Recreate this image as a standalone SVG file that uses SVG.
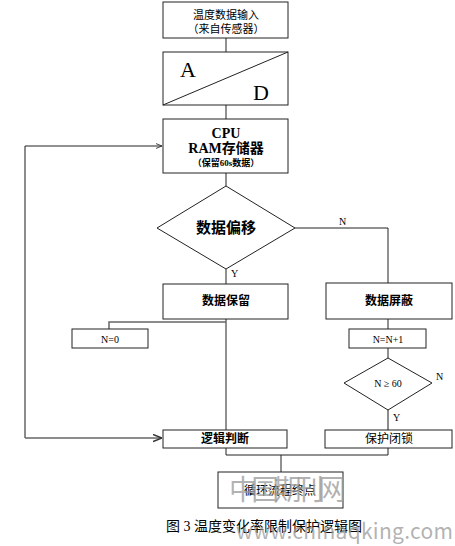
<svg xmlns="http://www.w3.org/2000/svg" width="455" height="546" viewBox="0 0 455 546">
<style>
.box{fill:#fff;stroke:#222;stroke-width:1}
.ln{fill:none;stroke:#222;stroke-width:1}
.gl{fill:none;stroke:#666;stroke-width:1.5}
.t{font-family:"Liberation Serif","Noto Sans CJK SC",serif;fill:#000;text-anchor:middle;dominant-baseline:central}
.b{font-weight:bold}
.lab{font-family:"Liberation Serif",serif;font-size:10px;fill:#000}
.wm{font-family:"Noto Sans CJK SC",sans-serif;fill:#999;fill-opacity:0.75}
</style>
<defs>
<marker id="ar" viewBox="0 0 10 10" refX="10" refY="5" markerWidth="6" markerHeight="6" orient="auto">
<path d="M0,1 L10,5 L0,9" fill="none" stroke="#333" stroke-width="1.5"/>
</marker>
</defs>
<rect width="455" height="546" fill="#fff"/>
<g id="connectors">
<path class="ln" d="M226,38 V52"/>
<path class="ln" d="M226,105 V119"/>
<path class="ln" d="M226,173 V186"/>
<path class="ln" d="M226,269 V284"/>
<path class="ln" d="M226,319 V430"/>
<path class="gl" d="M226,322 H109 V329"/>
<path class="ln" d="M295,228 H388 V283"/>
<path class="ln" d="M388,319 V329"/>
<path class="ln" d="M388,348 V358"/>
<path class="gl" d="M388,410 V430"/>
<path class="ln" d="M226,448 V455 H388 V448"/>
<path class="ln" d="M281,455 V472" stroke-width="1.8"/>
<path class="gl" d="M25,438 V146"/>
<path class="ln" d="M25,146 H162" marker-end="url(#ar)"/>
<path class="gl" d="M25,438 H162" marker-end="url(#ar)"/>
<text class="lab" x="339" y="225">N</text>
<text class="lab" x="231" y="277">Y</text>
<text class="lab" x="436" y="380">N</text>
<text class="lab" x="393" y="421">Y</text>
</g>
<g id="n-input">
<rect class="box" x="163" y="2" width="125" height="36"/>
<text class="t" x="226" y="15" font-size="11">温度数据输入</text>
<text class="t" x="226" y="29" font-size="11">（来自传感器）</text>
</g>
<g id="n-ad">
<rect class="box" x="163" y="52" width="125" height="53"/>
<path class="ln" d="M163,105 L288,52"/>
<text class="t" x="188" y="69" font-size="22">A</text>
<text class="t" x="261" y="92" font-size="22">D</text>
</g>
<g id="n-cpu">
<rect class="box" x="163" y="119" width="125" height="54"/>
<text class="t b" x="226" y="133" font-size="14">CPU</text>
<text class="t b" x="226" y="148" font-size="14">RAM存储器</text>
<text class="t b" x="226" y="163" font-size="9">（保留60s数据）</text>
</g>
<g id="n-shift">
<path class="box" d="M226,186 L295,228 L226,269 L157,228 Z"/>
<text class="t b" x="226" y="228" font-size="15">数据偏移</text>
</g>
<g id="n-keep">
<rect class="box" x="163" y="284" width="125" height="35"/>
<text class="t b" x="226" y="301" font-size="12">数据保留</text>
</g>
<g id="n-n0">
<rect class="box" x="72" y="329" width="76" height="19"/>
<text class="t" x="110" y="339" font-size="10">N=0</text>
</g>
<g id="n-mask">
<rect class="box" x="326" y="283" width="126" height="36"/>
<text class="t b" x="389" y="301" font-size="12">数据屏蔽</text>
</g>
<g id="n-inc">
<rect class="box" x="349" y="329" width="77" height="19"/>
<text class="t" x="388" y="339" font-size="10">N=N+1</text>
</g>
<g id="n-cmp">
<path class="box" d="M388,358 L432,383 L388,410 L344,383 Z"/>
<text class="t" x="388" y="383" font-size="10">N ≥ 60</text>
</g>
<g id="n-logic">
<rect class="box" x="163" y="430" width="124" height="18"/>
<text class="t b" x="225" y="439" font-size="12">逻辑判断</text>
</g>
<g id="n-lock">
<rect class="box" x="325" y="430" width="127" height="18"/>
<text class="t" x="389" y="439" font-size="12">保护闭锁</text>
</g>
<g id="n-end">
<rect class="box" x="218" y="472" width="125" height="36"/>
<text class="t" x="280" y="491" font-size="12">循环流程终点</text>
</g>
<text class="wm" x="229" y="500" font-size="28" textLength="117">中国期刊网</text>
<text class="t" x="264" y="526" font-size="14" font-family="Noto Sans CJK SC,sans-serif">图 3 温度变化率限制保护逻辑图</text>
<text class="wm" x="236" y="539" font-size="21" font-family="Liberation Mono,monospace" textLength="217">www.chinaqking.com</text>
</svg>
